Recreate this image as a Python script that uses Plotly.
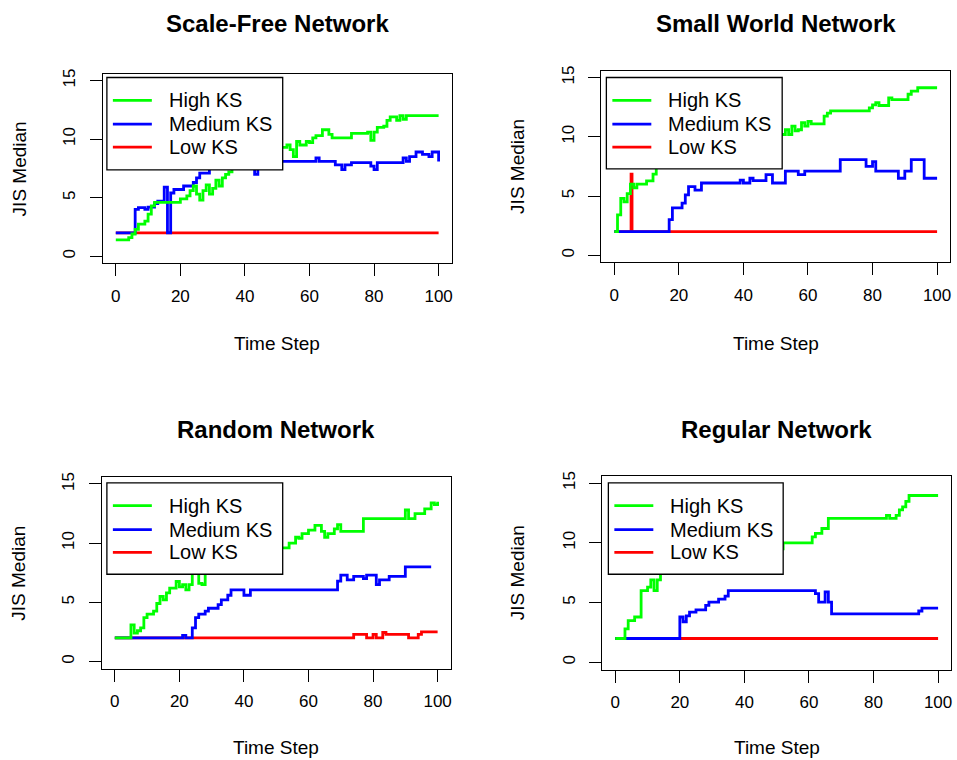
import plotly.graph_objects as go

W, H = 957, 760

# ---------------- data (change points of step lines) ----------------
titles = ["Scale-Free Network", "Small World Network", "Random Network", "Regular Network"]
series_names = ["High KS", "Medium KS", "Low KS"]
x_ticks = [0, 20, 40, 60, 80, 100]
y_ticks = [0, 5, 10, 15]

# Scale-Free
sf_high_t = [0, 4, 5, 6, 7, 9, 10, 11, 12, 20, 22, 23, 24, 25, 26, 27, 28, 29, 30, 31, 32, 33, 34, 35,
             36, 40, 44, 48, 51, 53, 54, 55, 56, 57, 59, 60, 61, 62, 64, 66, 67, 73, 78, 79, 80, 81, 83,
             84, 85, 87, 88, 89, 90, 100]
sf_high_v = [1.4, 1.6, 1.9, 2.3, 2.75, 3.0, 3.6, 4.3, 4.6, 4.9, 5.15, 5.6, 6.0, 5.3, 4.8, 5.6, 6.1, 5.3,
             5.8, 6.5, 6.0, 6.7, 7.0, 7.2, 7.6, 8.0, 8.4, 8.8, 9.3, 9.5, 9.1, 8.5, 9.8, 9.5, 9.8, 9.7,
             10.1, 10.3, 10.8, 10.4, 10.1, 10.5, 10.6, 9.9, 10.6, 11.0, 11.1, 11.6, 11.9, 11.6, 12.0,
             11.7, 12.0, 12.0]
sf_med_t = [0, 6, 7, 9, 10, 12, 13, 15, 16, 17, 18, 21, 24, 25, 26, 29, 33, 38, 43, 44, 47, 50, 52, 62,
            63, 68, 70, 71, 73, 79, 80, 81, 89, 90, 91, 93, 95, 97, 98, 100]
sf_med_v = [2.0, 4.0, 4.15, 4.0, 4.2, 4.5, 4.7, 5.9, 2.0, 5.4, 5.7, 6.0, 6.3, 6.7, 7.1, 7.5, 7.8, 7.6,
            7.0, 7.6, 8.0, 8.1, 8.1, 8.4, 8.1, 7.8, 7.4, 7.8, 8.0, 7.7, 7.4, 8.0, 8.4, 8.1, 8.5, 8.9,
            8.7, 8.5, 8.9, 8.1]
sf_low_t = [0, 100]
sf_low_v = [2.0, 2.0]

# Small World
sw_high_t = [0, 1, 2, 3, 4, 5, 6, 7, 10, 12, 13, 18, 24, 30, 36, 42, 48, 53, 54, 55, 56, 57, 58, 59,
             60, 61, 65, 66, 67, 79, 80, 81, 82, 85, 86, 91, 92, 94, 100]
sw_high_v = [2.0, 3.4, 4.8, 4.5, 5.2, 6.0, 5.7, 6.0, 6.28, 6.85, 7.6, 8.0, 8.5, 9.0, 9.3, 9.8, 10.2,
             10.6, 10.2, 10.9, 10.5, 10.6, 11.2, 10.9, 11.3, 11.1, 11.75, 12.0, 12.2, 12.45, 12.7,
             12.9, 12.65, 13.3, 13.15, 13.6, 13.87, 14.15, 14.15]
sw_med_t = [0, 17, 18, 21, 22, 23, 25, 27, 39, 40, 42, 43, 47, 49, 53, 57, 59, 70, 78, 80, 81, 88, 90,
            92, 96, 100]
sw_med_v = [2.0, 3.0, 4.0, 4.4, 5.1, 5.8, 5.5, 6.1, 6.35, 6.1, 6.5, 6.3, 6.8, 6.1, 7.1, 6.8, 7.1,
            8.07, 7.5, 7.9, 7.1, 6.5, 7.1, 8.07, 6.5, 6.5]
sw_low_t = [0, 5.2, 5.5, 100]
sw_low_v = [2.0, 6.85, 2.0, 2.0]

# Random
rn_high_t = [0, 5, 6, 7, 8, 9, 10, 12, 13, 14, 15, 16, 17, 19, 20, 21, 22, 23, 24, 26, 27, 28, 32, 38,
             44, 50, 54, 56, 57, 58, 60, 62, 64, 65, 66, 68, 69, 70, 77, 90, 91, 93, 96, 98, 99, 100]
rn_high_v = [2.0, 3.1, 2.4, 2.6, 2.85, 3.7, 4.0, 4.25, 4.9, 5.5, 5.2, 5.8, 6.2, 6.76, 6.3, 6.5, 6.06,
             6.5, 7.6, 6.6, 6.5, 7.6, 8.0, 8.6, 9.2, 9.6, 10.0, 10.5, 10.4, 10.8, 11.1, 11.5, 11.0,
             10.5, 10.8, 11.2, 11.56, 11.0, 12.07, 12.8, 12.07, 12.5, 12.9, 13.4, 13.25, 13.5]
rn_med_t = [0, 21, 22, 24, 25, 26, 28, 29, 32, 33, 35, 36, 40, 42, 69, 70, 72, 74, 77, 78, 81, 82, 85,
            90, 98]
rn_med_v = [2.0, 2.2, 2.0, 2.85, 3.7, 4.0, 4.25, 4.5, 4.8, 5.2, 5.6, 6.06, 5.6, 6.06, 6.8, 7.3, 6.9,
            7.2, 7.0, 7.3, 6.5, 6.9, 7.2, 8.0, 8.0]
rn_low_t = [0, 74, 78, 80, 81, 83, 84, 91, 94, 95, 100]
rn_low_v = [2.0, 2.3, 2.0, 2.3, 2.0, 2.45, 2.3, 2.0, 2.3, 2.5, 2.5]

# Regular
rg_high_t = [0, 3, 4, 6, 8, 10, 11, 12, 13, 14, 20, 28, 36, 44, 52, 61, 62, 64, 66, 84, 85, 87, 88, 89,
             90, 91, 100]
rg_high_v = [2.0, 2.8, 3.5, 3.8, 6.0, 6.3, 6.9, 6.0, 6.9, 7.6, 8.0, 8.5, 9.0, 9.5, 10.0, 10.5, 10.8,
             11.2, 12.05, 12.3, 12.05, 12.3, 12.75, 13.0, 13.46, 13.96, 13.96]
rg_med_t = [0, 20, 21, 22, 23, 25, 28, 29, 32, 34, 35, 62, 63, 65, 66, 67, 94, 95, 100]
rg_med_v = [2.0, 3.8, 3.4, 3.9, 4.2, 4.4, 4.77, 5.05, 5.3, 5.55, 6.0, 5.75, 5.05, 5.9, 5.05, 4.06,
            4.3, 4.54, 4.54]
rg_low_t = [0, 100]
rg_low_v = [2.0, 2.0]

panels = [
    dict(high=(sf_high_t, sf_high_v), med=(sf_med_t, sf_med_v), low=(sf_low_t, sf_low_v)),
    dict(high=(sw_high_t, sw_high_v), med=(sw_med_t, sw_med_v), low=(sw_low_t, sw_low_v)),
    dict(high=(rn_high_t, rn_high_v), med=(rn_med_t, rn_med_v), low=(rn_low_t, rn_low_v)),
    dict(high=(rg_high_t, rg_high_v), med=(rg_med_t, rg_med_v), low=(rg_low_t, rg_low_v)),
]

# ---------------- layout (pixel geometry) ----------------
boxes = [(103, 69, 452, 260), (602, 66, 951, 259), (102, 475, 451, 668), (603, 474, 952, 669)]
legend_boxes = [(107, 73, 283, 166), (607, 73, 783, 165), (107, 481, 283, 573), (609, 481, 784, 573)]
title_y = [19, 19, 427, 427]
xlab_y = [341, 341, 747, 747]
ylab_x = [19, 518, 19, 518]

GREEN, BLUE, RED = "#00FF00", "#0000FF", "#FF0000"
FONT = "Liberation Sans, Arial, sans-serif"
LW = 2.8


def px(x):
    return x / W


def py(y):
    return 1 - y / H


fig = go.Figure()
annotations = []
shapes = []

for i, p in enumerate(panels):
    n = "" if i == 0 else str(i + 1)
    xa, ya = "x" + n, "y" + n
    for key, col, name in [("low", RED, "Low KS"), ("med", BLUE, "Medium KS"), ("high", GREEN, "High KS")]:
        t, v = p[key]
        fig.add_trace(go.Scatter(x=t, y=v, mode="lines", line=dict(color=col, width=LW, shape="hv"),
                                 name=name, showlegend=False, xaxis=xa, yaxis=ya, hoverinfo="skip"))
    x0, y0, x1, y1 = boxes[i]
    common = dict(showline=True, mirror=True, linecolor="black", linewidth=1, ticks="outside",
                  ticklen=12, tickcolor="black", showgrid=False, zeroline=False,
                  tickfont=dict(family=FONT, size=17, color="black"))
    fig.layout["xaxis" + n] = dict(domain=[px(x0), px(x1)], range=[-4, 104], tickvals=x_ticks,
                                   anchor=ya, ticklabelstandoff=5, **common)
    fig.layout["yaxis" + n] = dict(domain=[py(y1), py(y0)], range=[-0.6, 15.6], tickvals=y_ticks,
                                   anchor=xa, tickangle=-90, ticklabelstandoff=8, **common)
    cx = (x0 + x1) / 2
    annotations.append(dict(text="<b>" + titles[i] + "</b>", x=px(cx), y=py(title_y[i]), xref="paper",
                            yref="paper", showarrow=False, xanchor="center", yanchor="middle",
                            font=dict(family=FONT, size=24, color="black")))
    annotations.append(dict(text="Time Step", x=px(cx), y=py(xlab_y[i]), xref="paper", yref="paper",
                            showarrow=False, xanchor="center", yanchor="middle",
                            font=dict(family=FONT, size=19, color="black")))
    annotations.append(dict(text="JIS Median", x=px(ylab_x[i]), y=py((y0 + y1) / 2), xref="paper",
                            yref="paper", showarrow=False, xanchor="center", yanchor="middle",
                            textangle=-90, font=dict(family=FONT, size=19, color="black")))
    # legend box
    lx0, ly0, lx1, ly1 = legend_boxes[i]
    shapes.append(dict(type="rect", xref="paper", yref="paper", x0=px(lx0), x1=px(lx1), y0=py(ly1),
                       y1=py(ly0), fillcolor="white", line=dict(color="black", width=1.3), layer="above"))
    for k, (name, col) in enumerate(zip(series_names, [GREEN, BLUE, RED])):
        ry = ly0 + [23, 47, 70][k]
        shapes.append(dict(type="line", xref="paper", yref="paper", x0=px(lx0 + 6), x1=px(lx0 + 45),
                           y0=py(ry), y1=py(ry), line=dict(color=col, width=LW), layer="above"))
        annotations.append(dict(text=name, x=px(lx0 + 60), y=py(ry), xref="paper", yref="paper",
                                showarrow=False, xanchor="left", yanchor="middle",
                                font=dict(family=FONT, size=20, color="black")))

fig.update_layout(width=W, height=H, margin=dict(l=0, r=0, t=0, b=0), paper_bgcolor="white",
                  plot_bgcolor="white", showlegend=False, annotations=annotations, shapes=shapes)

fig.write_html("out.html", config={"displayModeBar": False},
               post_script="document.body.style.margin='0';document.body.style.padding='0';"
                           "document.body.style.overflow='hidden';")
